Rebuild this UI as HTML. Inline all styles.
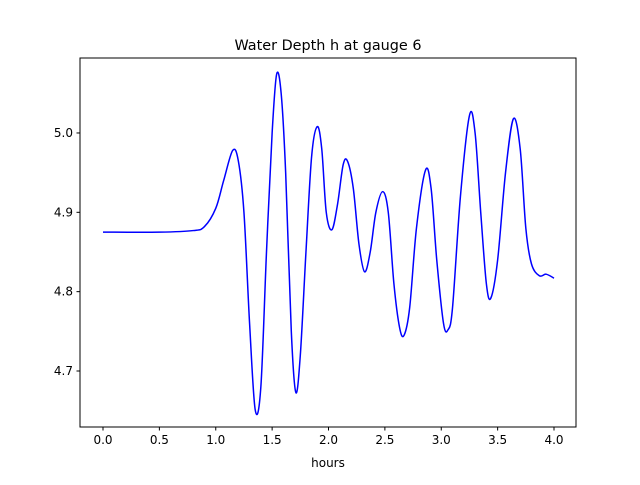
<!DOCTYPE html>
<html><head><meta charset="utf-8"><style>
body{margin:0;background:#fff;}
text{font-family:"DejaVu Sans","Liberation Sans",sans-serif;font-size:12px;fill:#000;}
</style></head><body>
<svg id="chart" width="640" height="480">
<rect x="0" y="0" width="640" height="480" fill="#fff"/>
<text x="328" y="50" text-anchor="middle" style="font-size:14.4px">Water Depth h at gauge 6</text>
<g id="plot"></g>
<rect x="80" y="58" width="496" height="369" fill="none" stroke="#000" stroke-width="1"/>
<text x="328" y="467" text-anchor="middle">hours</text>
</svg>
<script>
const xTicks=[0,0.5,1,1.5,2,2.5,3,3.5,4];
const yTicks=[4.7,4.8,4.9,5.0];
const times=[0,0.5,0.8,0.9,1.0,1.07,1.15,1.2,1.25,1.3,1.35,1.4,1.45,1.5,1.54,1.58,1.62,1.67,1.71,1.75,1.8,1.85,1.9,1.94,1.98,2.03,2.08,2.13,2.17,2.22,2.27,2.32,2.37,2.42,2.48,2.53,2.58,2.63,2.67,2.72,2.78,2.86,2.91,2.96,3.02,3.06,3.1,3.17,3.25,3.3,3.35,3.4,3.44,3.5,3.57,3.64,3.7,3.75,3.8,3.87,3.93,4.0];
const depth=[4.875,4.875,4.877,4.882,4.905,4.94,4.978,4.965,4.9,4.76,4.651,4.68,4.85,5.0,5.074,5.05,4.95,4.75,4.673,4.72,4.85,4.97,5.008,4.98,4.9,4.878,4.91,4.96,4.964,4.93,4.86,4.825,4.85,4.9,4.926,4.9,4.81,4.755,4.745,4.78,4.88,4.953,4.93,4.84,4.76,4.752,4.78,4.92,5.022,5.0,4.9,4.81,4.792,4.84,4.95,5.018,4.98,4.88,4.835,4.82,4.822,4.817];
const X0=80,X1=576,Y0=427,Y1=58;
const xMin=-0.204,xMax=4.195,yMin=4.6294,yMax=5.0945;
function sx(v){return X0+(v-xMin)/(xMax-xMin)*(X1-X0);}
function sy(v){return Y0-(v-yMin)/(yMax-yMin)*(Y0-Y1);}
const NS="http://www.w3.org/2000/svg";
const g=document.getElementById('plot');
function mk(t,a){const e=document.createElementNS(NS,t);for(const k in a)e.setAttribute(k,a[k]);g.appendChild(e);return e;}
xTicks.forEach(v=>{
 const l=mk('line',{x1:sx(v),x2:sx(v),y1:Y0,y2:Y0+3.5,stroke:'#000'});
 
 
 const t=mk('text',{x:sx(v),y:Y0+17,'text-anchor':'middle'});
 t.textContent=v.toFixed(1);
 
 
});
yTicks.forEach(v=>{
 const l=mk('line',{x1:X0-3.5,x2:X0,y1:sy(v),y2:sy(v),stroke:'#000'});
 
 
 const t=mk('text',{x:X0-7,y:sy(v)+4,'text-anchor':'end'});
 t.textContent=v.toFixed(1);
 
 
});
const P=times.map((t,i)=>[sx(t),sy(depth[i])]);
let d='M'+P[0][0]+','+P[0][1];
for(let i=0;i<P.length-1;i++){
 const p0=P[Math.max(0,i-1)],p1=P[i],p2=P[i+1],p3=P[Math.min(P.length-1,i+2)];
 const c1=[p1[0]+(p2[0]-p0[0])/6,p1[1]+(p2[1]-p0[1])/6];
 const c2=[p2[0]-(p3[0]-p1[0])/6,p2[1]-(p3[1]-p1[1])/6];
 d+=' C'+c1[0]+','+c1[1]+' '+c2[0]+','+c2[1]+' '+p2[0]+','+p2[1];
}
const line=mk('path',{d:d,fill:'none',stroke:'#0000ff','stroke-width':1.5});


</script>
</body></html>
